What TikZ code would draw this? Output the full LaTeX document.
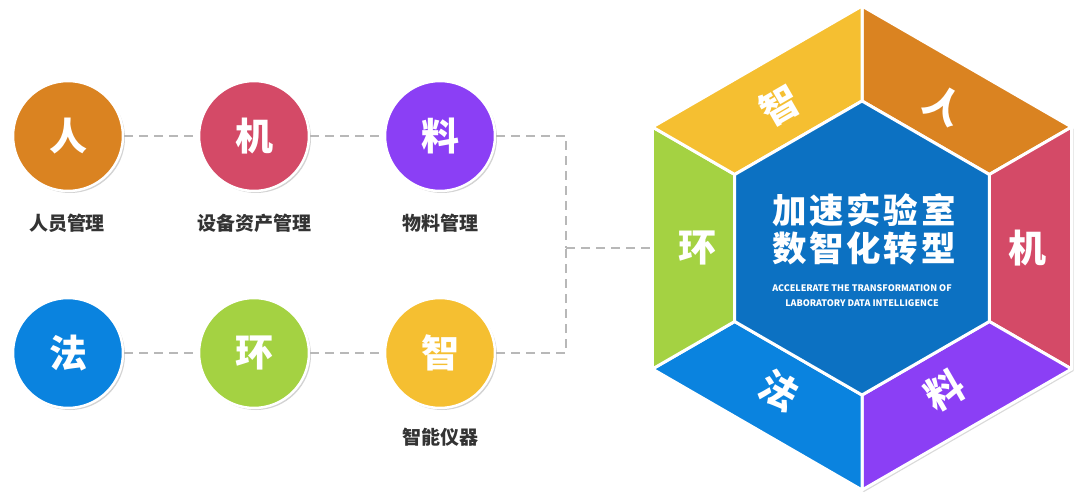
\documentclass[tikz,border=0pt]{standalone}
\usepackage{fontspec}
\setmainfont{Noto Sans CJK SC}
\usetikzlibrary{calc,shadows,positioning}
\definecolor{cren}{HTML}{DA8321}
\definecolor{cji}{HTML}{D44A67}
\definecolor{cliao}{HTML}{8B3FF5}
\definecolor{cfa}{HTML}{0A83DF}
\definecolor{chuan}{HTML}{A4D242}
\definecolor{czhi}{HTML}{F5BF31}
\definecolor{ccore}{HTML}{0C71C2}
\tikzset{
  ball/.style={circle, minimum size=110pt, inner sep=0pt, draw=white, line width=2.5pt, text=white,
    font=\bfseries\fontsize{38}{38}\selectfont,
    drop shadow={shadow xshift=2pt, shadow yshift=-2pt, opacity=0.35}},
  caption/.style={text=black!80, font=\bfseries\fontsize{19}{19}\selectfont},
  link/.style={draw=black!28, line width=2pt, dash pattern=on 9pt off 6pt},
  seg/.style={draw=white, line width=3pt, line join=round},
  hexchar/.style={text=white, font=\bfseries\fontsize{38}{38}\selectfont},
}
\begin{document}
\begin{tikzpicture}[line cap=butt,line join=round,x=1pt,y=1pt]
    \useasboundingbox (0,0) rectangle (1080,499);
    \coordinate (hc) at (862,251);
    \coordinate (hub) at (566,251);
    \coordinate (hexW) at ($(hc)+(180:209.6)$);
    % hexagon
    \fill[white, drop shadow={shadow xshift=2pt, shadow yshift=-2pt, opacity=0.3}]
        ($(hc)+(90:242)$) -- ($(hc)+(30:242)$) -- ($(hc)+(-30:242)$) -- ($(hc)+(-90:242)$) -- ($(hc)+(-150:242)$) -- ($(hc)+(150:242)$) -- cycle;
    \foreach \a/\col in {90/cren,30/cji,-30/cliao,-90/cfa,-150/chuan,150/czhi}
        \filldraw[seg, fill=\col] ($(hc)+(\a:242)$) -- ($(hc)+(\a-60:242)$) -- ($(hc)+(\a-60:147)$) -- ($(hc)+(\a:147)$) -- cycle;
    \filldraw[seg, fill=ccore] ($(hc)+(90:147)$) -- ($(hc)+(30:147)$) -- ($(hc)+(-30:147)$) -- ($(hc)+(-90:147)$) -- ($(hc)+(-150:147)$) -- ($(hc)+(150:147)$) -- cycle;
    \foreach \a/\r/\t/\n in {60/-30/人/hren, 0/0/机/hji, -60/30/料/hliao, -120/-30/法/hfa, 180/0/环/hhuan, 120/30/智/hzhi}
        \node[hexchar, rotate=\r] (\n) at ($(hc)+(\a:165)$) {\t};
    \node[text=white, align=center, font=\bfseries\fontsize{34.5}{38}\selectfont\addfontfeature{LetterSpace=8}] (title) at (864,270) {加速实验室\\数智化转型};
    \node[text=white, align=center, font=\bfseries\fontsize{9}{15}\selectfont] (sub) at (862,203.5) {ACCELERATE THE TRANSFORMATION OF\\LABORATORY DATA INTELLIGENCE};
    % circles
    \node[ball, fill=cren] (ren) at (68,363) {人};
    \node[ball, fill=cji] (ji) at (254,363) {机};
    \node[ball, fill=cliao] (liao) at (440,363) {料};
    \node[ball, fill=cfa] (fa) at (68,146) {法};
    \node[ball, fill=chuan] (huan) at (254,146) {环};
    \node[ball, fill=czhi] (zhi) at (440,146) {智};
    \node[caption] (renT) at (67,276) {人员管理};
    \node[caption] (jiT) at (254,276) {设备资产管理};
    \node[caption] (liaoT) at (440,276) {物料管理};
    \node[caption] (zhiT) at (440,62) {智能仪器};
    % links
    \draw[link] (ren) -- (ji);
    \draw[link] (ji) -- (liao);
    \draw[link] (fa) -- (huan);
    \draw[link] (huan) -- (zhi);
    \draw[link] (liao) -| (hub);
    \draw[link] (zhi) -| (hub);
    \draw[link] (hub) -- (hexW);
\end{tikzpicture}
\end{document}
